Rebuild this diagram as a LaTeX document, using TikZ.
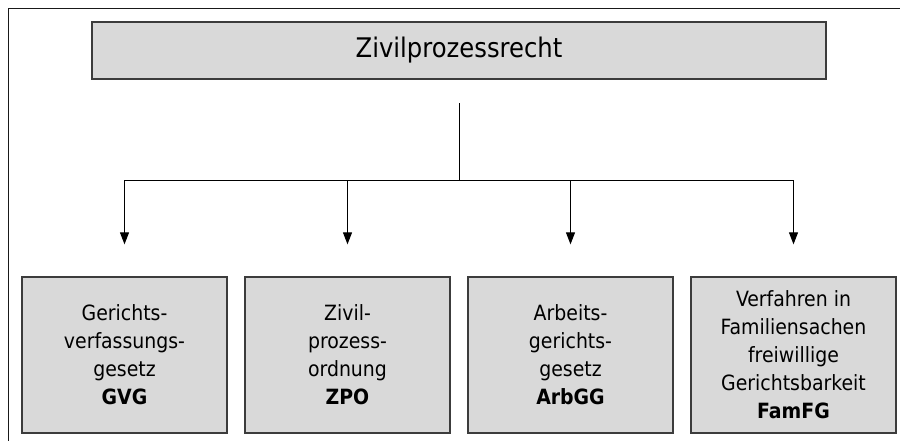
\documentclass[tikz,border=0pt]{standalone}
\usepackage{fontspec}
\setmainfont{DejaVuSansCondensed.ttf}[BoldFont=DejaVuSansCondensed-Bold.ttf]
\usetikzlibrary{arrows.meta}

\definecolor{boxgray}{HTML}{D9D9D9}
\definecolor{rimgray}{HTML}{3C3C3C}

\tikzset{
   titel/.style={draw=rimgray, line width=1.3pt, fill=boxgray, minimum width=734pt,
      minimum height=57pt, inner sep=0pt, font=\fontsize{27}{32}\selectfont},
   gesetz/.style={draw=rimgray, line width=1.3pt, fill=boxgray, minimum width=205pt,
      minimum height=156pt, inner sep=0pt, align=center, font=\fontsize{21}{28}\selectfont},
   pfeil/.style={-{Triangle[length=12pt,width=9pt]}, line width=1pt, shorten >=32pt}
}

\begin{document}
\begin{tikzpicture}[x=1pt,y=1pt]

   \useasboundingbox (0,0) rectangle (900,-440);
   \draw [line width=1pt, black!90] (8,-8) rectangle (912,-452);

   \node (ZPR) at (459,-50.5) [titel] {Zivilprozessrecht} ;

   \node (GVG) at (124.5,-355) [gesetz] {Gerichts-\\verfassungs-\\gesetz\\\textbf{GVG}} ;
   \node (ZPO) at (347.5,-355) [gesetz] {Zivil-\\prozess-\\ordnung\\\textbf{ZPO}} ;
   \node (ArbGG) at (570.5,-355) [gesetz] {Arbeits-\\gerichts-\\gesetz\\\textbf{ArbGG}} ;
   \node (FamFG) at (793.5,-355) [gesetz] {Verfahren in\\Familiensachen\\freiwillige\\Gerichtsbarkeit\\\textbf{FamFG}} ;

   \coordinate (stamm) at (459,-103) ;
   \coordinate (ast) at (459,-180) ;

   \draw [line width=1pt] (stamm) -- (ast);
   \draw [line width=1pt] (ast -| GVG) -- (ast -| FamFG);

   \draw [pfeil] (ast -| GVG) -- (GVG.north);
   \draw [pfeil] (ast -| ZPO) -- (ZPO.north);
   \draw [pfeil] (ast -| ArbGG) -- (ArbGG.north);
   \draw [pfeil] (ast -| FamFG) -- (FamFG.north);

\end{tikzpicture}
\end{document}
